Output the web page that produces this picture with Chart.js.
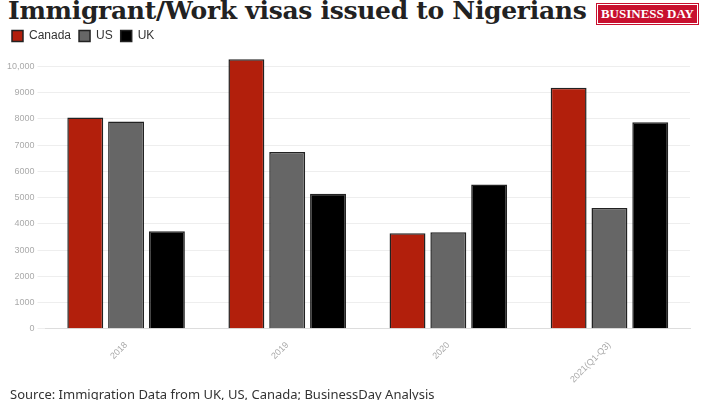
<!DOCTYPE html>
<html><head><meta charset="utf-8">
<script src="https://cdn.jsdelivr.net/npm/chart.js@4"></script>
<style>
body{margin:0;width:704px;height:400px;background:#fff;font-family:"Noto Sans",sans-serif;position:relative;overflow:hidden}
#title{position:absolute;left:8px;top:-4px;font-family:"DejaVu Serif",serif;font-weight:bold;font-size:25px;color:#222;letter-spacing:-0.3px}
#logo{position:absolute;right:6px;top:4px;background:#c8102e;color:#fff;font-family:"Liberation Serif",serif;font-weight:bold;font-size:13px;padding:1px 3px;border:1px solid #fff;outline:1px solid #c8102e}
#wrap{position:absolute;left:0;top:22px;width:704px;height:366px}
#src{position:absolute;left:10px;top:385px;font-size:13px;color:#333}
</style></head><body>
<div id="title">Immigrant/Work visas issued to Nigerians</div>
<div id="logo">BUSINESS DAY</div>
<div id="wrap"><canvas id="c"></canvas></div>
<div id="src">Source: Immigration Data from UK, US, Canada; BusinessDay Analysis</div>
<script>
const years = ["2018","2019","2020","2021(Q1-Q3)"];
const canada = [8050,10270,3640,9190];
const us = [7900,6740,3680,4610];
const uk = [3720,5150,5500,7870];
const yTicks = [0,1000,2000,3000,4000,5000,6000,7000,8000,9000,10000];

const ds = (label, data, color) => ({label, data, backgroundColor:color, borderColor:"#222", borderWidth:1.5, categoryPercentage:0.76, barPercentage:0.88});

new Chart(document.getElementById("c"),{
  type:"bar",
  data:{labels:years, datasets:[ds("Canada",canada,"#b21f0c"), ds("US",us,"#666666"), ds("UK",uk,"#000000")]},
  options:{
    responsive:true, maintainAspectRatio:false, animation:false,
    layout:{padding:{right:14,left:4}},
    plugins:{legend:{align:"start",labels:{boxWidth:11,boxHeight:11,font:{size:12},color:"#333",padding:8}}},
    scales:{
      x:{grid:{display:false},border:{color:"#ddd"},ticks:{color:"#aaa",font:{size:9},minRotation:45,maxRotation:45}},
      y:{min:0,max:10550,
         afterBuildTicks:a=>{a.ticks=yTicks.map(v=>({value:v}));},
         ticks:{color:"#aaa",font:{size:9},callback:v=>v===10000?"10,000":v},
         grid:{color:"#eee"},border:{display:false}}
    }
  }
});
</script></body></html>
